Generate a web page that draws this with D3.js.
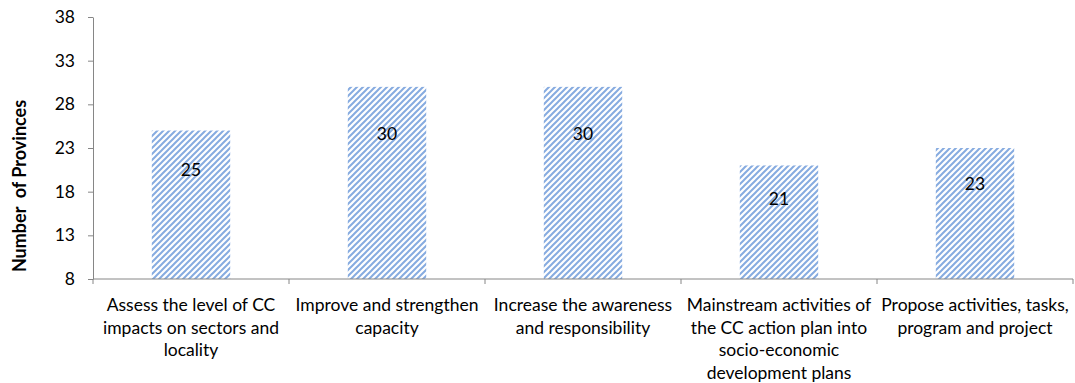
<!DOCTYPE html>
<html>
<head>
<meta charset="utf-8">
<script src="https://cdn.jsdelivr.net/npm/d3@7"></script>
<style>
  html, body { margin: 0; padding: 0; background: #fff; }
  svg { display: block; font-family: Lato, "Open Sans", sans-serif; }
</style>
</head>
<body>
<svg id="chart" width="1075" height="383"></svg>
<script>
// Activities and number of provinces carrying them out
const categories = [
  ["Assess the level of CC", "impacts on sectors and", "locality"],
  ["Improve and strengthen", "capacity"],
  ["Increase the awareness", "and responsibility"],
  ["Mainstream activities of", "the CC action plan into", "socio-economic", "development plans"],
  ["Propose activities, tasks,", "program and project"]
];
const values = [25, 30, 30, 21, 23];
const yTicks = [8, 13, 18, 23, 28, 33, 38];
const yTitle = "Number  of Provinces";

const svg = d3.select("#chart");
const margin = { left: 93, right: 2, top: 17, bottom: 104 };
const W = 1075, H = 383;
const FS = 17.5;

const x = d3.scaleBand()
  .domain(d3.range(categories.length))
  .range([margin.left, W - margin.right])
  .paddingInner(0.6)
  .paddingOuter(0.3);

const xOuter = d3.scaleBand()
  .domain(d3.range(categories.length))
  .range([margin.left, W - margin.right]);

const y = d3.scaleLinear()
  .domain([8, 38])
  .range([H - margin.bottom, margin.top]);

// Diagonal hatch fill
const defs = svg.append("defs");
const pat = defs.append("pattern")
  .attr("id", "hatch")
  .attr("patternUnits", "userSpaceOnUse")
  .attr("width", 6).attr("height", 6);
pat.append("rect").attr("width", 6).attr("height", 6).attr("fill", "#ffffff");
pat.append("path")
  .attr("d", "M-1.5,1.5 L1.5,-1.5 M0,6 L6,0 M4.5,7.5 L7.5,4.5")
  .attr("stroke", "#86abe0")
  .attr("stroke-width", 2);
defs.append("filter").attr("id", "soft")
  .append("feGaussianBlur").attr("stdDeviation", 0.4);

// Bars
svg.append("g").selectAll("rect")
  .data(values)
  .join("rect")
  .attr("x", (d, i) => x(i))
  .attr("width", x.bandwidth())
  .attr("y", d => y(d))
  .attr("height", d => y(8) - y(d))
  .attr("fill", "url(#hatch)")
  .attr("filter", "url(#soft)");

// Value labels
svg.append("g").selectAll("text")
  .data(values)
  .join("text")
  .attr("x", (d, i) => x(i) + x.bandwidth() / 2)
  .attr("y", d => y(d * 0.82))
  .attr("dy", "0.35em")
  .attr("text-anchor", "middle")
  .attr("font-size", FS)
  .attr("fill", "#000")
  .text(d => d);

// Y axis
const yAxis = svg.append("g")
  .attr("transform", `translate(${margin.left},0)`)
  .call(d3.axisLeft(y).tickValues(yTicks).tickSize(5).tickPadding(13).tickSizeOuter(0));
yAxis.select(".domain").attr("stroke", "#868686");
yAxis.selectAll(".tick line").attr("stroke", "#868686");
yAxis.selectAll(".tick text").attr("font-size", FS).attr("fill", "#000")
  .attr("font-family", "Lato, sans-serif");

// X axis with category dividers
const xAxisY = y(8);
const xg = svg.append("g");
xg.append("line")
  .attr("x1", margin.left).attr("x2", W - margin.right)
  .attr("y1", xAxisY).attr("y2", xAxisY)
  .attr("stroke", "#868686");
xg.selectAll("line.div")
  .data(d3.range(categories.length + 1))
  .join("line")
  .attr("class", "div")
  .attr("x1", i => i < categories.length ? xOuter(i) : W - margin.right)
  .attr("x2", i => i < categories.length ? xOuter(i) : W - margin.right)
  .attr("y1", xAxisY).attr("y2", xAxisY + 5)
  .attr("stroke", "#868686");

const labels = xg.selectAll("text.cat")
  .data(categories)
  .join("text")
  .attr("class", "cat")
  .attr("text-anchor", "middle")
  .attr("font-size", FS)
  .attr("fill", "#000");
labels.selectAll("tspan")
  .data((d, i) => d.map(line => ({ line, i })))
  .join("tspan")
  .attr("x", d => xOuter(d.i) + xOuter.bandwidth() / 2)
  .attr("y", (d, j) => 311 + j * 22.5)
  .text(d => d.line);

// Y title
svg.append("text")
  .attr("transform", "translate(26,186) rotate(-90)")
  .attr("text-anchor", "middle")
  .attr("font-size", 18)
  .attr("font-weight", "bold")
  .attr("fill", "#000")
  .style("white-space", "pre")
  .text(yTitle);
</script>
</body>
</html>
